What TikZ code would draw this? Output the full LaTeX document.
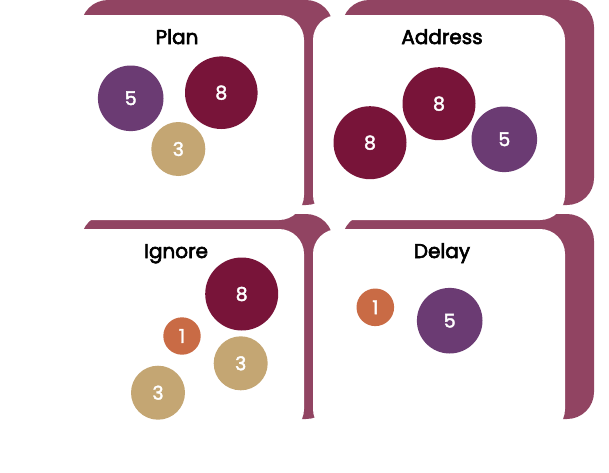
\documentclass[tikz,border=0pt]{standalone}
\usepackage{fontspec}
\setmainfont{Poppins}
\newfontfamily\titlefont[FakeBold=3]{Poppins}
\newfontfamily\digitfont[FakeBold=2]{Poppins}
\definecolor{band}{HTML}{914462}
\definecolor{wine}{HTML}{781439}
\definecolor{plum}{HTML}{6B3B73}
\definecolor{sand}{HTML}{C4A673}
\definecolor{rust}{HTML}{C96B45}
\tikzset{
  bandbox/.style={fill=band, rounded corners=27pt},
  cardbox/.style={fill=white, rounded corners=25pt},
  titletext/.style={anchor=base, inner sep=0pt, font=\titlefont\fontsize{20}{24}\selectfont, text=black},
  ball/.style={circle, inner sep=0pt, minimum size=#1, text=white, font=\digitfont\fontsize{19}{22}\selectfont},
}
\begin{document}
\begin{tikzpicture}[x=1pt,y=-1pt]
\useasboundingbox (0,0) rectangle (609,472);
% back bands
\fill[bandbox] (81,0) rectangle (333,205);
\fill[bandbox] (342,0) rectangle (594,205);
\fill[bandbox] (81,214) rectangle (333,419);
\fill[bandbox] (342,214) rectangle (594,419);
% cards
\fill[cardbox] (52,15) rectangle (304,220);
\fill[cardbox] (313,15) rectangle (565,220);
\fill[cardbox] (52,229) rectangle (304,434);
\fill[cardbox] (313,229) rectangle (565,434);
% titles
\node[titletext] (tplan) at (177,44) {Plan};
\node[titletext] (taddr) at (442,44) {Address};
\node[titletext] (tign) at (176,258) {Ignore};
\node[titletext] (tdel) at (442,258) {Delay};
% Plan
\node[ball=65.6pt, fill=plum] (pa) at (130.7,98.3) {5};
\node[ball=72.6pt, fill=wine] (pb) at (221.3,92.7) {8};
\node[ball=54pt, fill=sand] (pc) at (178.3,149) {3};
% Address
\node[ball=73pt, fill=wine] (aa) at (370,142.7) {8};
\node[ball=73pt, fill=wine] (ab) at (439,103.7) {8};
\node[ball=65.6pt, fill=plum] (ac) at (504.3,139.3) {5};
% Ignore
\node[ball=73pt, fill=wine] (ia) at (241.7,294) {8};
\node[ball=37.4pt, fill=rust] (ib) at (182,336) {1};
\node[ball=54pt, fill=sand] (ic) at (240.7,363.3) {3};
\node[ball=54pt, fill=sand] (id) at (158,392.7) {3};
% Delay
\node[ball=37.6pt, fill=rust] (da) at (375.3,307.3) {1};
\node[ball=65.6pt, fill=plum] (db) at (449.7,320.7) {5};
\end{tikzpicture}
\end{document}
